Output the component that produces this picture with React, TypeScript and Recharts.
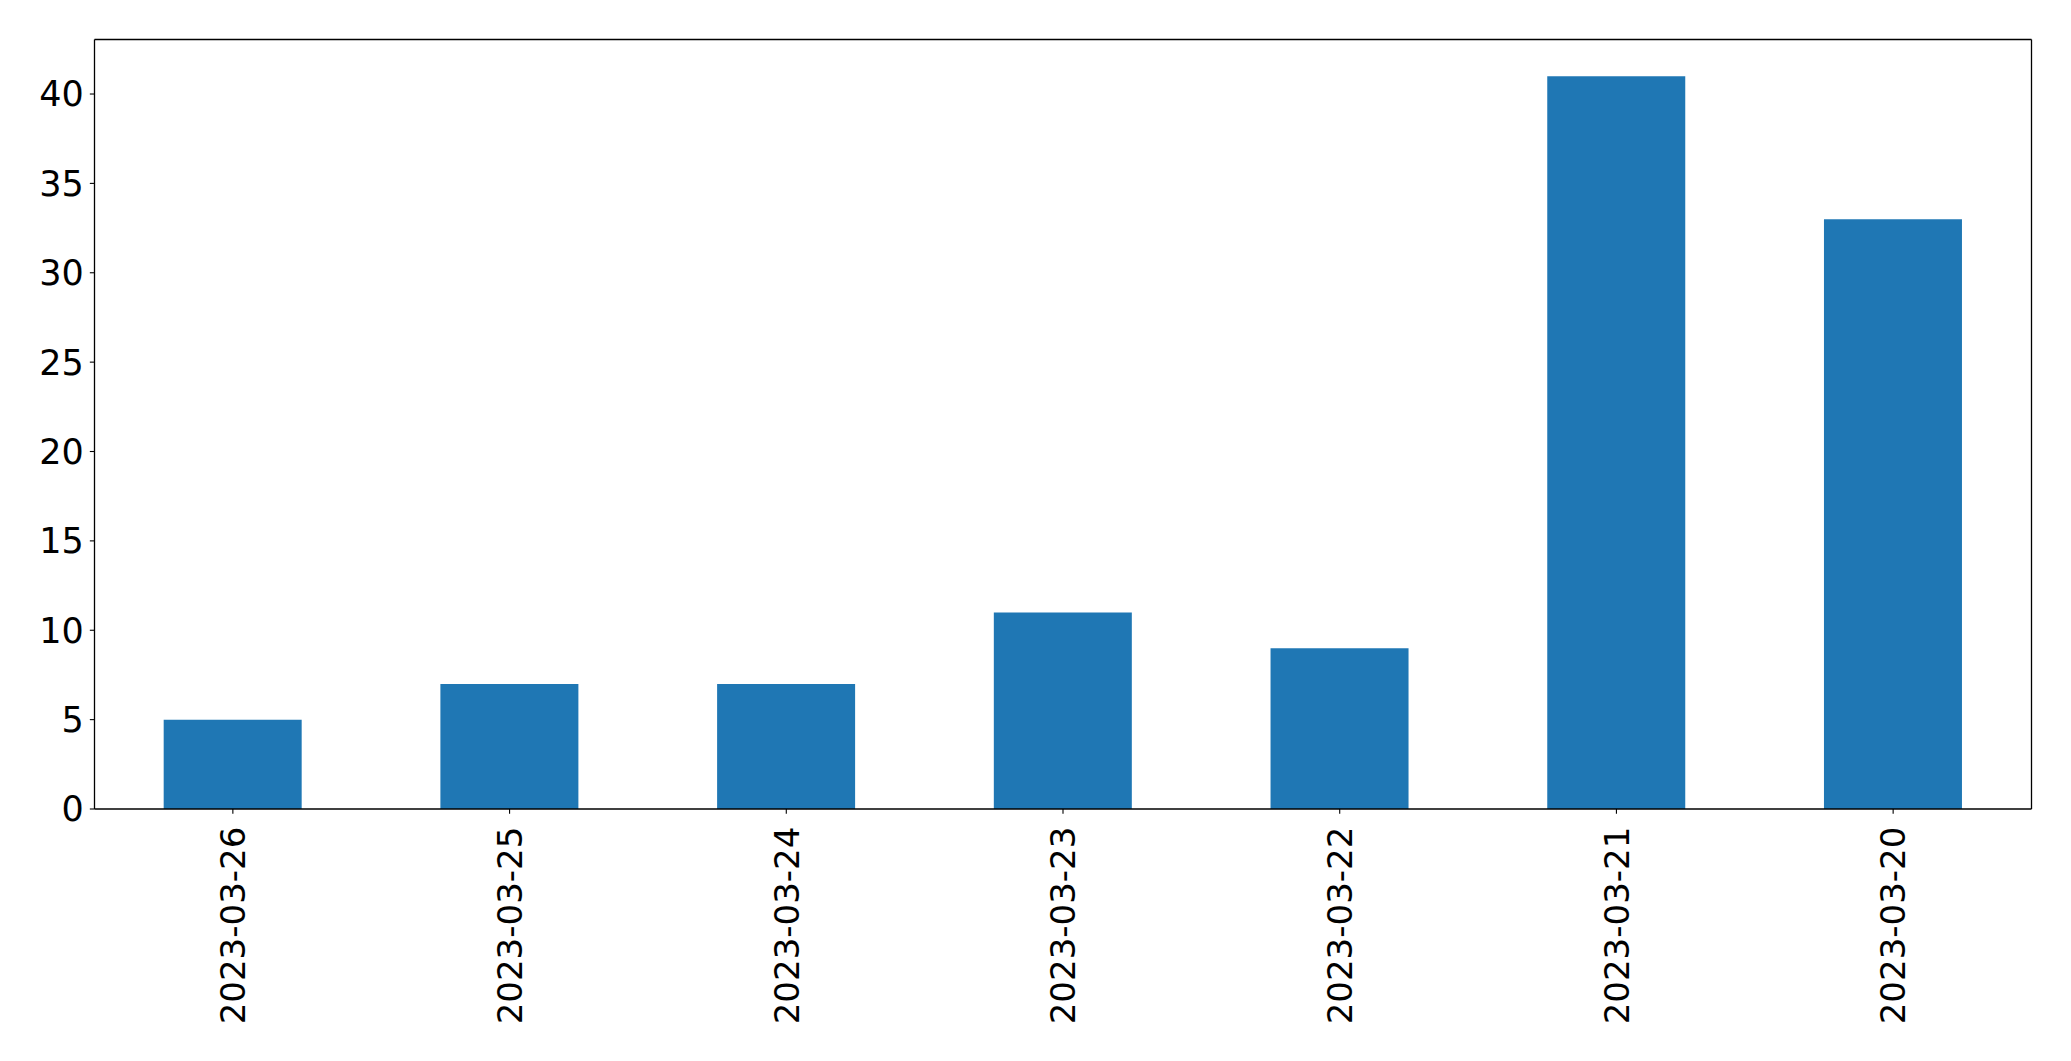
import React from "react";
import { BarChart, Bar, XAxis, YAxis } from "recharts";

const categories = ["2023-03-26", "2023-03-25", "2023-03-24", "2023-03-23", "2023-03-22", "2023-03-21", "2023-03-20"];
const counts = [5, 7, 7, 11, 9, 41, 33];
const yTicks = [0, 5, 10, 15, 20, 25, 30, 35, 40];

const data = categories.map((c, i) => ({ date: c, value: counts[i] }));

const FONT = "DejaVu Sans";

const XTick = (props: any) => {
  const { x, y, payload } = props;
  return (
    <text
      x={x}
      y={y}
      transform={`rotate(-90, ${x}, ${y})`}
      textAnchor="end"
      dy="0.36em"
      fontFamily={FONT}
      fontSize={34}
      fill="#000"
    >
      {payload.value}
    </text>
  );
};

export default function App() {
  return (
    <div style={{ position: "absolute", left: 0, top: 0, width: 2071, height: 1061, background: "#fff" }}>
      <BarChart
        width={2071}
        height={1061}
        data={data}
        margin={{ top: 29.5, right: 29.5, bottom: 0, left: 0 }}
        barCategoryGap="25%"
      >
        <XAxis
          dataKey="date"
          xAxisId="b"
          height={252}
          tickSize={4.67}
          tickMargin={13}
          tick={<XTick />}
          axisLine={{ stroke: "#000", strokeWidth: 1.3 }}
          tickLine={{ stroke: "#000", strokeWidth: 1.1 }}
          interval={0}
        />
        <XAxis
          dataKey="date"
          xAxisId="t"
          orientation="top"
          height={10}
          tick={false}
          tickLine={false}
          axisLine={{ stroke: "#000", strokeWidth: 1.3 }}
        />
        <YAxis
          yAxisId="l"
          width={94.5}
          domain={[0, 43.05]}
          ticks={yTicks}
          tickSize={4.67}
          tickMargin={6}
          tick={{ fontFamily: FONT, fontSize: 35, fill: "#000" }}
          axisLine={{ stroke: "#000", strokeWidth: 1.3 }}
          tickLine={{ stroke: "#000", strokeWidth: 1.1 }}
          allowDataOverflow
        />
        <YAxis
          yAxisId="r"
          orientation="right"
          width={10}
          domain={[0, 43.05]}
          tick={false}
          tickLine={false}
          axisLine={{ stroke: "#000", strokeWidth: 1.3 }}
        />
        <Bar dataKey="value" xAxisId="b" yAxisId="l" fill="#1f77b4" isAnimationActive={false} />
        <Bar dataKey="value" xAxisId="t" yAxisId="r" fill="none" legendType="none" isAnimationActive={false} />
      </BarChart>
    </div>
  );
}
